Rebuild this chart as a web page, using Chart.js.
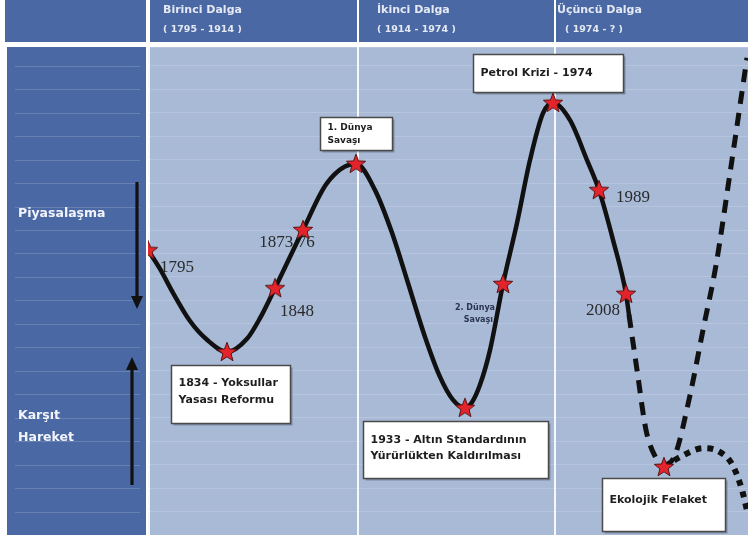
<!DOCTYPE html>
<html><head><meta charset="utf-8">
<script src="https://cdn.jsdelivr.net/npm/chart.js@4.4.1/dist/chart.umd.min.js"></script>
<style>html,body{margin:0;padding:0;background:#fff;overflow:hidden}#wrap{position:relative;width:748px;height:535px}</style>
</head><body><div id="wrap"><canvas id="c"></canvas></div>
<script>
// ---------- DATA (schematic time position on x, marketization level on y) ----------
const waveNames   = ['Birinci Dalga', 'İkinci Dalga', 'Üçüncü Dalga'];
const wavePeriods = ['( 1795 - 1914 )', '( 1914 - 1974 )', '( 1974 - ? )'];
const waveStartX  = [0, 210, 407];
const sideLabelTop    = ['Piyasalaşma'];
const sideLabelBottom = ['Karşıt', 'Hareket'];

// solid historical curve
const solidX = [0, 12, 25, 42, 59, 79, 99, 112, 127, 155, 179, 208, 227, 244, 260, 277, 292, 305, 317, 324, 332, 342, 355, 369, 382, 395, 405, 422, 439, 451, 465, 478, 481];
const solidY = [60.7, 56.7, 51.6, 45.6, 41.6, 39.0, 41.8, 46.2, 52.6, 65.0, 75.0, 79.1, 73.5, 64.4, 53.7, 42.2, 33.7, 28.8, 27.1, 28.3, 32.0, 39.4, 53.5, 66.5, 79.9, 89.9, 92.1, 88.4, 79.9, 73.5, 62.9, 51.4, 46.9];
// dashed future: fall to ecological disaster, then rise
const fallX = [481, 489, 498, 508, 516];
const fallY = [46.9, 35.2, 22.4, 16.4, 14.5];
const riseX = [516, 527, 542, 555, 568, 582, 599];
const riseY = [14.5, 17.0, 29.8, 43.7, 57.5, 77.1, 101.7];
// dotted alternative path
const altX = [516, 532, 555, 570, 584, 594, 600];
const altY = [14.5, 16.6, 18.5, 17.9, 15.1, 9.6, 4.3];

// events (stars)
const eventX = [0, 79, 127, 155, 208, 317, 355, 405, 451, 478, 516];
const eventY = [60.7, 39.0, 52.6, 65.0, 79.1, 27.1, 53.5, 92.1, 73.5, 51.4, 14.5];
const eventLabels = [
  ['1795'],
  ['1834 - Yoksullar', 'Yasası Reformu'],
  ['1848'],
  ['1873/76'],
  ['1. Dünya', 'Savaşı'],
  ['1933 - Altın Standardının', 'Yürürlükten Kaldırılması'],
  ['2. Dünya', 'Savaşı'],
  ['Petrol Krizi - 1974'],
  ['1989'],
  ['2008'],
  ['Ekolojik Felaket']
];

// ---------- STYLE / LAYOUT ----------
const DARK = '#4a68a4', LIGHT = '#a8bad6';
const labelLayout = [
  {kind:'serif', dx:12, dy:17, align:'left'},
  {kind:'box', bx:-56, by:13, bw:119, bh:58, ty:[18,35], size:11},
  {kind:'serif', dx:5, dy:23, align:'left'},
  {kind:'serif', dx:-16, dy:13, align:'center'},
  {kind:'box', bx:-36, by:-47, bw:72, bh:33, ty:[10,23], size:9},
  {kind:'box', bx:-102, by:13, bw:185, bh:57, ty:[19,35], size:11},
  {kind:'small', dx:-8, dy:[24,36]},
  {kind:'box', bx:-80, by:-49, bw:150, bh:38, ty:[19], size:11},
  {kind:'serif', dx:17, dy:7, align:'left'},
  {kind:'serif', dx:-6, dy:17, align:'right'},
  {kind:'box', bx:-62, by:11, bw:123, bh:53, ty:[22], size:11}
];
const headerDx = [15, 19, 2], periodDx = [15, 19, 10];

function makeStar(){
  const c = document.createElement('canvas');
  c.width = 22; c.height = 22;
  const g = c.getContext('2d');
  g.beginPath();
  for (let i = 0; i < 10; i++){
    const r = i % 2 ? 4.3 : 10.2;
    const a = -Math.PI/2 + i*Math.PI/5;
    const px = 11 + r*Math.cos(a), py = 11.5 + r*Math.sin(a);
    i ? g.lineTo(px, py) : g.moveTo(px, py);
  }
  g.closePath();
  g.fillStyle = '#e3242b'; g.fill();
  g.lineWidth = 1; g.strokeStyle = '#5a1313'; g.stroke();
  return c;
}
const starImg = makeStar();

const pts = (xs, ys) => xs.map((v, i) => ({x: v, y: ys[i]}));

function arrow(ctx, x, y1, y2){
  const dir = Math.sign(y2 - y1);
  ctx.strokeStyle = '#111'; ctx.fillStyle = '#111'; ctx.lineWidth = 3.2;
  ctx.beginPath(); ctx.moveTo(x, y1); ctx.lineTo(x, y2 - dir*10); ctx.stroke();
  ctx.beginPath(); ctx.moveTo(x - 6, y2 - dir*13); ctx.lineTo(x + 6, y2 - dir*13); ctx.lineTo(x, y2); ctx.closePath(); ctx.fill();
}

const bgPlugin = {
  id: 'bg',
  beforeDraw(chart){
    const {ctx, chartArea: a, scales: {x, y}} = chart;
    ctx.save();
    ctx.fillStyle = '#fff'; ctx.fillRect(0, 0, chart.width, chart.height);
    ctx.fillStyle = DARK;
    ctx.fillRect(5, 0, chart.width - 5, a.top - 5);
    ctx.fillRect(7, a.top, a.left - 9, a.bottom - a.top);
    ctx.fillStyle = LIGHT;
    ctx.fillRect(a.left, a.top, a.right - a.left, a.bottom - a.top);
    // header separators + texts
    ctx.textBaseline = 'middle'; ctx.textAlign = 'left';
    waveStartX.forEach((v, i) => {
      const px = x.getPixelForValue(v);
      ctx.fillStyle = '#fff';
      ctx.fillRect(px - (i ? 1 : 2), 0, i ? 2 : 4, a.top);
      ctx.fillStyle = '#e4e9f3';
      ctx.font = 'bold 11px "DejaVu Sans"';
      ctx.fillText(waveNames[i], px + headerDx[i], 10);
      ctx.font = 'bold 9.5px "DejaVu Sans"';
      ctx.fillText(wavePeriods[i], px + periodDx[i], 30);
    });
    // faint lines in left column
    ctx.strokeStyle = 'rgba(255,255,255,0.16)'; ctx.lineWidth = 1;
    y.ticks.forEach(t => {
      const py = Math.round(y.getPixelForValue(t.value)) + 0.5;
      if (py > a.top + 3 && py < a.bottom - 3){
        ctx.beginPath(); ctx.moveTo(15, py); ctx.lineTo(a.left - 8, py); ctx.stroke();
      }
    });
    // side labels
    ctx.fillStyle = '#f2f4fa'; ctx.font = 'bold 12.5px "DejaVu Sans"';
    ctx.fillText(sideLabelTop[0], 18, 214);
    sideLabelBottom.forEach((s, i) => ctx.fillText(s, 18, 416 + i*22));
    arrow(ctx, 137, 182, 309);
    arrow(ctx, 132, 485, 357);
    ctx.restore();
  },
  beforeDatasetsDraw(chart){
    const {ctx, scales: {x, y}} = chart;
    ctx.save();
    eventLabels.forEach((lines, i) => {
      const L = labelLayout[i];
      const sx = x.getPixelForValue(eventX[i]), sy = y.getPixelForValue(eventY[i]);
      if (L.kind === 'serif'){
        ctx.font = '17px "Liberation Serif"'; ctx.fillStyle = '#2a2a2a';
        ctx.textAlign = L.align; ctx.textBaseline = 'middle';
        ctx.fillText(lines[0], sx + L.dx, sy + L.dy);
      } else if (L.kind === 'small'){
        ctx.font = 'bold 8px "DejaVu Sans"'; ctx.fillStyle = '#2c3550';
        ctx.textAlign = 'right'; ctx.textBaseline = 'middle';
        lines.forEach((s, k) => ctx.fillText(s, sx + L.dx - (k ? 2 : 0), sy + L.dy[k]));
      } else {
        const bx = Math.round(sx + L.bx) + 0.5, by = Math.round(sy + L.by) + 0.5;
        ctx.fillStyle = 'rgba(40,50,70,0.35)';
        ctx.fillRect(bx + 2, by + 2, L.bw, L.bh);
        ctx.fillStyle = '#fff'; ctx.fillRect(bx, by, L.bw, L.bh);
        ctx.strokeStyle = '#4a4a4a'; ctx.lineWidth = 1.5; ctx.strokeRect(bx, by, L.bw, L.bh);
        ctx.fillStyle = '#1e1e1e'; ctx.font = 'bold ' + L.size + 'px "DejaVu Sans"';
        ctx.textAlign = 'left'; ctx.textBaseline = 'middle';
        lines.forEach((s, k) => ctx.fillText(s, bx + 7, by + L.ty[k]));
      }
    });
    ctx.restore();
  }
};

const lineBase = {showLine: true, pointRadius: 0, fill: false, cubicInterpolationMode: 'monotone', borderColor: '#111', order: 1};

new Chart(document.getElementById('c'), {
  type: 'scatter',
  data: {
    datasets: [
      {data: pts(eventX, eventY), pointStyle: starImg, pointRadius: 10, showLine: false, order: 0},
      Object.assign({}, lineBase, {data: pts(solidX, solidY), borderWidth: 4.5, borderCapStyle: 'round', borderJoinStyle: 'round'}),
      Object.assign({}, lineBase, {data: pts(fallX, fallY), borderWidth: 5, borderDash: [13, 9], borderCapStyle: 'butt'}),
      Object.assign({}, lineBase, {data: pts(riseX, riseY), borderWidth: 5, borderDash: [13, 9], borderCapStyle: 'butt'}),
      Object.assign({}, lineBase, {data: pts(altX, altY), borderWidth: 6, borderDash: [6, 6], borderCapStyle: 'butt'})
    ]
  },
  options: {
    responsive: true, maintainAspectRatio: false, animation: false,
    layout: {autoPadding: false, padding: {left: 148, top: 47, right: 0, bottom: 0}},
    plugins: {legend: {display: false}, tooltip: {enabled: false}},
    scales: {
      x: {type: 'linear', min: 0, max: 600,
          afterBuildTicks: s => { s.ticks = waveStartX.map(v => ({value: v})); },
          ticks: {display: false},
          grid: {drawTicks: false, color: 'rgba(255,255,255,0.9)', lineWidth: c => c.index === 0 ? 4 : 2},
          border: {display: false}},
      y: {min: 0, max: 104, ticks: {display: false, stepSize: 5},
          grid: {drawTicks: false, color: 'rgba(255,255,255,0.17)', lineWidth: 1},
          border: {display: false}}
    }
  },
  plugins: [bgPlugin]
});
</script>
</body></html>
